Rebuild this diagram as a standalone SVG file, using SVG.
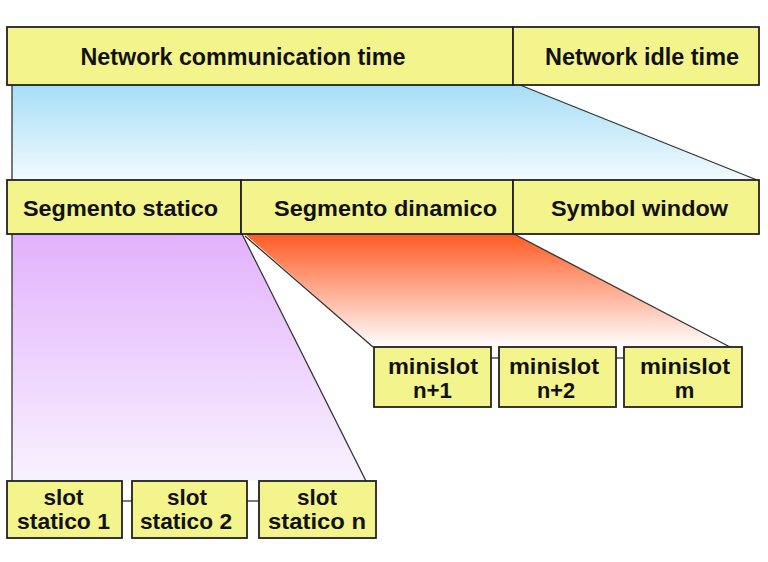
<svg xmlns="http://www.w3.org/2000/svg" width="768" height="562" viewBox="0 0 768 562">
<defs>
<linearGradient id="gBlue" x1="0" y1="0" x2="0" y2="1">
<stop offset="0" stop-color="#A6DEF6"/>
<stop offset="1" stop-color="#F2FAFE"/>
</linearGradient>
<linearGradient id="gPurple" x1="0" y1="0" x2="0" y2="1">
<stop offset="0" stop-color="#E2B2FC"/>
<stop offset="1" stop-color="#F8F2FE"/>
</linearGradient>
<linearGradient id="gOrange" x1="0" y1="0" x2="0" y2="1">
<stop offset="0" stop-color="#FF5A24"/>
<stop offset="1" stop-color="#FFFFFF"/>
</linearGradient>
<style>
.box{fill:#F4F48C;stroke:#222;stroke-width:1.8}
.t{font-family:"Liberation Sans",Arial,sans-serif;font-weight:bold;fill:#111;text-anchor:middle}
.big{font-size:24px}
.mid{font-size:22.5px}
.small{font-size:22px}
.edge{stroke:#333;stroke-width:1.3;fill:none}
</style>
</defs>
<rect width="768" height="562" fill="#fff"/>
<g id="fills">
<polygon points="12,85 520,85 757,180 12,180" fill="url(#gBlue)"/>
<polygon points="12,234 242,234 366,481 12,481" fill="url(#gPurple)"/>
<polygon points="245,234 514,234 730,347 373,347" fill="url(#gOrange)"/>
</g>
<g id="connectors">
<line class="edge" x1="12" y1="85" x2="12" y2="180"/>
<line class="edge" x1="520" y1="85" x2="757" y2="180"/>
<line class="edge" x1="12" y1="234" x2="12" y2="481"/>
<line class="edge" x1="242" y1="234" x2="366" y2="481"/>
<line class="edge" x1="245" y1="236" x2="373" y2="347"/>
<line class="edge" x1="514" y1="234" x2="730" y2="347"/>
<line class="edge" x1="122" y1="501" x2="132" y2="501"/>
<line class="edge" x1="247" y1="501" x2="259" y2="501"/>
<line class="edge" x1="491" y1="358" x2="499" y2="358"/>
<line class="edge" x1="616" y1="358" x2="624" y2="358"/>
</g>
<g id="network-communication-time">
<rect class="box" x="7" y="27" width="506" height="58"/>
<text class="t big" x="243" y="65" textLength="325" lengthAdjust="spacingAndGlyphs">Network communication time</text>
</g>
<g id="network-idle-time">
<rect class="box" x="513" y="27" width="246" height="58"/>
<text class="t big" x="642" y="65" textLength="194" lengthAdjust="spacingAndGlyphs">Network idle time</text>
</g>
<g id="segmento-statico">
<rect class="box" x="7" y="180" width="234" height="54"/>
<text class="t mid" x="120.5" y="216" textLength="195" lengthAdjust="spacingAndGlyphs">Segmento statico</text>
</g>
<g id="segmento-dinamico">
<rect class="box" x="241" y="180" width="272" height="54"/>
<text class="t mid" x="385.5" y="216" textLength="223" lengthAdjust="spacingAndGlyphs">Segmento dinamico</text>
</g>
<g id="symbol-window">
<rect class="box" x="513" y="180" width="246" height="54"/>
<text class="t mid" x="639.5" y="216" textLength="177" lengthAdjust="spacingAndGlyphs">Symbol window</text>
</g>
<g id="slot-statico-1">
<rect class="box" x="7" y="481" width="115" height="57"/>
<text class="t small" x="63.5" y="505" textLength="40" lengthAdjust="spacingAndGlyphs">slot</text>
<text class="t small" x="63.5" y="529" textLength="93" lengthAdjust="spacingAndGlyphs">statico 1</text>
</g>
<g id="slot-statico-2">
<rect class="box" x="132" y="481" width="115" height="57"/>
<text class="t small" x="187" y="505" textLength="40" lengthAdjust="spacingAndGlyphs">slot</text>
<text class="t small" x="186" y="529" textLength="92" lengthAdjust="spacingAndGlyphs">statico 2</text>
</g>
<g id="slot-statico-n">
<rect class="box" x="259" y="481" width="117" height="57"/>
<text class="t small" x="317" y="505" textLength="40" lengthAdjust="spacingAndGlyphs">slot</text>
<text class="t small" x="317" y="529" textLength="98" lengthAdjust="spacingAndGlyphs">statico n</text>
</g>
<g id="minislot-n1">
<rect class="box" x="374" y="347" width="117" height="60"/>
<text class="t small" x="433" y="374" textLength="90" lengthAdjust="spacingAndGlyphs">minislot</text>
<text class="t small" x="432.5" y="398" textLength="39" lengthAdjust="spacingAndGlyphs">n+1</text>
</g>
<g id="minislot-n2">
<rect class="box" x="499" y="347" width="117" height="60"/>
<text class="t small" x="554" y="374" textLength="90" lengthAdjust="spacingAndGlyphs">minislot</text>
<text class="t small" x="556" y="398" textLength="38" lengthAdjust="spacingAndGlyphs">n+2</text>
</g>
<g id="minislot-m">
<rect class="box" x="624" y="347" width="118" height="60"/>
<text class="t small" x="685" y="374" textLength="90" lengthAdjust="spacingAndGlyphs">minislot</text>
<text class="t small" x="684.5" y="398">m</text>
</g>
</svg>
